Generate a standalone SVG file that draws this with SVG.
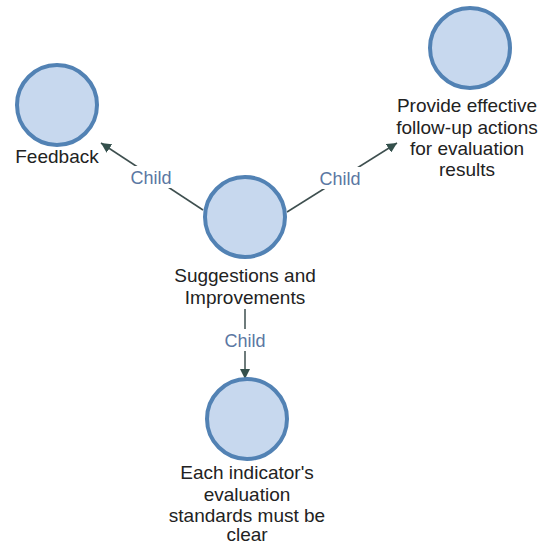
<svg xmlns="http://www.w3.org/2000/svg" width="549" height="543" viewBox="0 0 549 543">
  <defs>
    <marker id="arrow" viewBox="0 0 10 10" refX="10" refY="5" markerWidth="10" markerHeight="10" markerUnits="userSpaceOnUse" orient="auto">
      <path d="M0,0 L10,5 L0,10 z" fill="#34504c"/>
    </marker>
    <style>
      .node circle { fill: #c7d8ee; stroke: #5282b4; stroke-width: 4; }
      .label { font-family: "Liberation Sans", Arial, sans-serif; font-size: 19px; fill: #222; text-anchor: middle; }
      .edge line { stroke: #3e4f4f; stroke-width: 1.5; }
      .edge-label { font-family: "Liberation Sans", Arial, sans-serif; font-size: 18px; fill: #5b77a3; text-anchor: middle; }
      .edge-bg { fill: #ffffff; }
    </style>
  </defs>
  <rect width="549" height="543" fill="#ffffff"/>

  <g id="connectors" class="edge">
    <line x1="203" y1="210" x2="101" y2="143" marker-end="url(#arrow)"/>
    <rect class="edge-bg" x="128" y="166" width="46" height="22"/>
    <text class="edge-label" x="151" y="184">Child</text>

    <line x1="287" y1="212" x2="397" y2="143" marker-end="url(#arrow)"/>
    <rect class="edge-bg" x="317" y="167" width="46" height="22"/>
    <text class="edge-label" x="340" y="185">Child</text>

    <line x1="245" y1="309" x2="245" y2="379" marker-end="url(#arrow)"/>
    <rect class="edge-bg" x="222" y="329" width="46" height="22"/>
    <text class="edge-label" x="245" y="347">Child</text>
  </g>

  <g id="node-feedback" class="node">
    <circle cx="57" cy="105" r="40"/>
    <text class="label" x="57" y="163">Feedback</text>
  </g>

  <g id="node-follow-up" class="node">
    <circle cx="470" cy="48" r="40"/>
    <text class="label" x="467" y="112">Provide effective</text>
    <text class="label" x="467" y="133.5">follow-up actions</text>
    <text class="label" x="467" y="155">for evaluation</text>
    <text class="label" x="467" y="176">results</text>
  </g>

  <g id="node-suggestions" class="node">
    <circle cx="245" cy="217" r="40"/>
    <text class="label" x="245" y="282">Suggestions and</text>
    <text class="label" x="245" y="304">Improvements</text>
  </g>

  <g id="node-standards" class="node">
    <circle cx="247" cy="419" r="40"/>
    <text class="label" x="247" y="479">Each indicator's</text>
    <text class="label" x="247" y="500.5">evaluation</text>
    <text class="label" x="247" y="521.5">standards must be</text>
    <text class="label" x="247" y="541">clear</text>
  </g>
</svg>
